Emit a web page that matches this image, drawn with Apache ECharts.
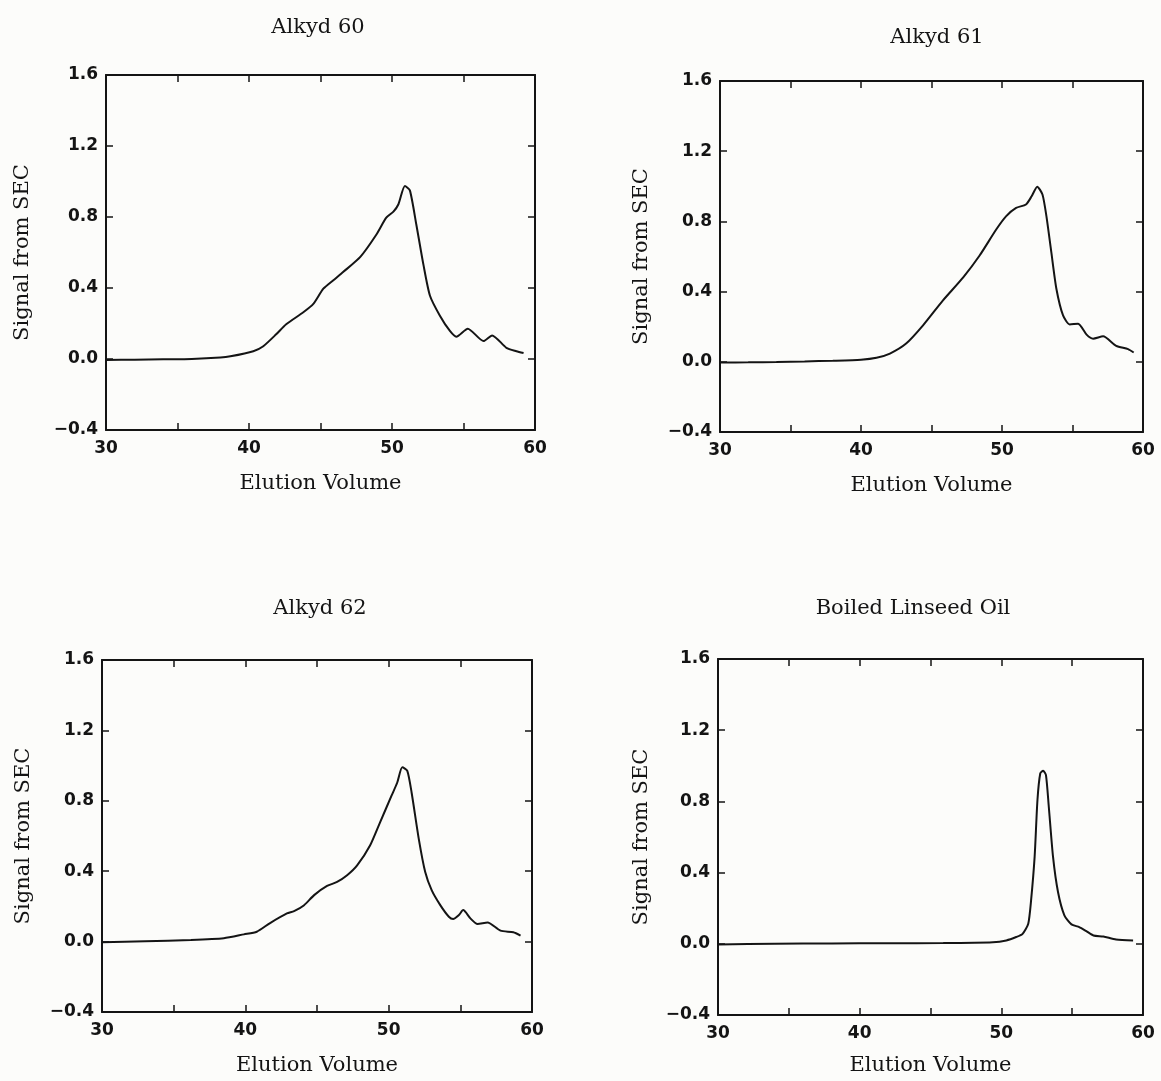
<!DOCTYPE html>
<html>
<head>
<meta charset="utf-8">
<script src="https://cdn.jsdelivr.net/npm/echarts@6/dist/echarts.min.js"></script>
<style>
html,body{margin:0;padding:0;background:#fcfcfa;}
#chart{width:1161px;height:1081px;}
</style>
</head>
<body>
<div id="chart"></div>
<script>
// ---- Data ----
const panelTitles = ["Alkyd 60", "Alkyd 61", "Alkyd 62", "Boiled Linseed Oil"];
const xAxisName = "Elution Volume";
const yAxisName = "Signal from SEC";
const xTicks = [30, 40, 50, 60];
const yTicks = [-0.4, 0.0, 0.4, 0.8, 1.2, 1.6];

const alkyd60Volume = [30, 32, 34, 36, 38, 38.7, 40.3, 41.0, 41.9, 42.6, 43.8, 44.5, 45.2, 45.9, 46.6, 47.8, 48.9, 49.6, 50.1, 50.45, 50.9, 51.25, 51.7, 52.2, 52.65, 53.35, 54.05, 54.5, 55.3, 56.4, 57.0, 58.0, 58.7, 59.2];
const alkyd60Signal = [-0.005, -0.004, -0.002, 0.0, 0.008, 0.015, 0.044, 0.072, 0.139, 0.196, 0.263, 0.31, 0.396, 0.444, 0.491, 0.577, 0.70, 0.796, 0.83, 0.872, 0.975, 0.95, 0.758, 0.53, 0.358, 0.244, 0.158, 0.126, 0.171, 0.101, 0.133, 0.063, 0.044, 0.034];

const alkyd61Volume = [30, 32, 34, 36, 38, 40, 41.1, 42.05, 43.2, 44.4, 45.8, 47.25, 48.4, 49.6, 50.3, 51.0, 51.7, 52.1, 52.5, 52.87, 53.15, 53.5, 53.86, 54.33, 54.8, 55.4, 56.0, 56.46, 57.17, 58.1, 58.94, 59.34];
const alkyd61Signal = [-0.004, -0.003, -0.001, 0.002, 0.006, 0.012, 0.023, 0.047, 0.104, 0.208, 0.349, 0.481, 0.604, 0.755, 0.83, 0.877, 0.896, 0.943, 0.998, 0.953, 0.83, 0.623, 0.415, 0.264, 0.213, 0.217, 0.155, 0.132, 0.145, 0.091, 0.072, 0.053];

const alkyd62Volume = [30, 33, 36.2, 38.5, 39.9, 40.8, 41.7, 42.9, 43.4, 44.1, 44.8, 45.7, 46.4, 47.1, 47.8, 48.7, 49.4, 50.2, 50.6, 50.95, 51.3, 51.6, 52.1, 52.55, 53.0, 53.6, 54.2, 54.5, 54.9, 55.2, 55.7, 56.2, 56.9, 57.8, 58.7, 59.2];
const alkyd62Signal = [-0.004, 0.002, 0.009, 0.019, 0.041, 0.056, 0.104, 0.16, 0.173, 0.207, 0.264, 0.316, 0.339, 0.377, 0.433, 0.546, 0.678, 0.829, 0.904, 0.99, 0.97, 0.847, 0.584, 0.395, 0.292, 0.207, 0.141, 0.128, 0.151, 0.179, 0.132, 0.10, 0.109, 0.062, 0.053, 0.034];

const linseedVolume = [30, 34, 38, 42, 45.9, 49.4, 50.35, 51.05, 51.5, 51.9, 52.1, 52.35, 52.55, 52.75, 52.95, 53.15, 53.35, 53.65, 54.0, 54.45, 54.95, 55.5, 56.0, 56.5, 57.2, 58.1, 59.3];
const linseedSignal = [-0.004, 0.0, 0.002, 0.003, 0.004, 0.009, 0.019, 0.038, 0.056, 0.113, 0.244, 0.488, 0.808, 0.958, 0.972, 0.948, 0.77, 0.488, 0.291, 0.16, 0.109, 0.094, 0.071, 0.047, 0.041, 0.024, 0.019];

const panelVolumes = [alkyd60Volume, alkyd61Volume, alkyd62Volume, linseedVolume];
const panelSignals = [alkyd60Signal, alkyd61Signal, alkyd62Signal, linseedSignal];

// ---- Layout (pixel boxes of each plot area) ----
const boxes = [
  {left: 106, top: 75, width: 429, height: 355, title: [318, 28], yGap: 73, xGap: 43},
  {left: 720, top: 81, width: 423, height: 351, title: [937, 38], yGap: 68, xGap: 43},
  {left: 102, top: 660, width: 430, height: 352, title: [320, 609], yGap: 68, xGap: 43},
  {left: 718, top: 659, width: 425, height: 356, title: [913, 609], yGap: 66, xGap: 40}
];

const INK = '#141414';
const serif = 'DejaVu Serif';
const tickFont = {fontFamily: 'DejaVu Sans', fontWeight: 'bold', fontSize: 17, color: INK};

function fmtY(v) {
  if (Math.abs(v) < 1e-9) return '0.0';
  return v < 0 ? '\u2212' + Math.abs(v).toFixed(1) : v.toFixed(1);
}

const grid = [], xAxis = [], yAxis = [], series = [], graphic = [];
boxes.forEach((b, i) => {
  grid.push({left: b.left, top: b.top, width: b.width, height: b.height, containLabel: false});
  const axLine = {show: true, onZero: false, lineStyle: {color: INK, width: 2}};
  const tick = {show: true, inside: true, length: 7, lineStyle: {color: INK, width: 1.5}};
  xAxis.push({
    type: 'value', gridIndex: i, position: 'bottom', min: xTicks[0], max: xTicks[xTicks.length - 1], interval: 5,
    axisLine: axLine, axisTick: tick, splitLine: {show: false},
    axisLabel: Object.assign({margin: 10, formatter: v => (xTicks.indexOf(v) >= 0 ? String(v) : '')}, tickFont),
    name: xAxisName, nameLocation: 'middle', nameGap: b.xGap,
    nameTextStyle: {fontFamily: serif, fontSize: 21, color: INK}
  });
  xAxis.push({
    type: 'value', gridIndex: i, position: 'top', min: xTicks[0], max: xTicks[xTicks.length - 1], interval: 5,
    axisLine: axLine, axisTick: tick, splitLine: {show: false}, axisLabel: {show: false}
  });
  yAxis.push({
    type: 'value', gridIndex: i, position: 'left', min: yTicks[0], max: yTicks[yTicks.length - 1], interval: 0.4,
    axisLine: axLine, axisTick: tick, splitLine: {show: false},
    axisLabel: Object.assign({margin: 8, formatter: fmtY}, tickFont),
    name: yAxisName, nameLocation: 'middle', nameRotate: 90, nameGap: b.yGap,
    nameTextStyle: {fontFamily: serif, fontSize: 21, color: INK}
  });
  yAxis.push({
    type: 'value', gridIndex: i, position: 'right', min: yTicks[0], max: yTicks[yTicks.length - 1], interval: 0.4,
    axisLine: axLine, axisTick: tick, splitLine: {show: false}, axisLabel: {show: false}
  });
  const vols = panelVolumes[i], sigs = panelSignals[i];
  series.push({
    type: 'line', name: panelTitles[i], xAxisIndex: 2 * i, yAxisIndex: 2 * i,
    data: vols.map((v, k) => [v, sigs[k]]),
    showSymbol: false, symbol: 'none', smooth: 0.22,
    lineStyle: {color: INK, width: 2}, silent: true, animation: false
  });
  graphic.push({
    type: 'text', x: b.title[0], y: b.title[1],
    style: {text: panelTitles[i], fill: INK, fontFamily: serif, fontSize: 21,
            textAlign: 'center', textVerticalAlign: 'middle', align: 'center', verticalAlign: 'middle'}
  });
});

const chart = echarts.init(document.getElementById('chart'), null, {renderer: 'canvas'});
chart.setOption({
  backgroundColor: '#fcfcfa',
  animation: false,
  grid, xAxis, yAxis, series, graphic
});
</script>
</body>
</html>
